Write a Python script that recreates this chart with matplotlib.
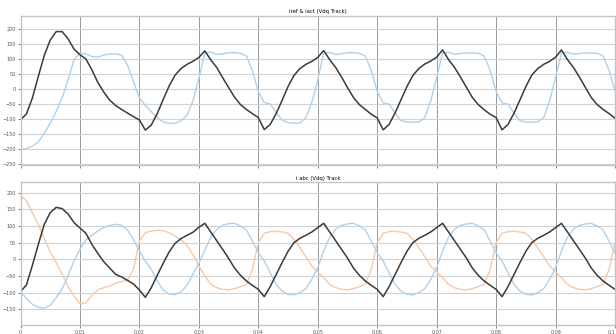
import numpy as np
import matplotlib.pyplot as plt

# time axis, 1 ms steps from 0 to 0.1 s
t = np.arange(101) / 1000.0

# upper plot: reference / measured
top_black = [
    -103, -83, -30, 42, 112, 163, 191, 191, 167, 133, 114, 100, 64, 22, -10, -37, -55, -68, -80, -92,
    -103, -137, -120, -82, -35, 10, 46, 68, 82, 92, 105, 127, 97, 72, 38, 5, -27, -52, -68, -82,
    -95, -135, -118, -82, -38, 8, 45, 68, 82, 92, 105, 128, 98, 72, 40, 5, -28, -52, -68, -84,
    -96, -136, -118, -80, -36, 8, 45, 68, 83, 93, 106, 130, 98, 72, 40, 6, -28, -52, -69, -84,
    -95, -136, -118, -81, -37, 8, 46, 68, 82, 92, 106, 130, 98, 72, 40, 6, -28, -52, -68, -82,
    -97,
]
top_blue = [
    -203, -198, -190, -176, -148, -113, -75, -30, 30, 98, 119, 117, 108, 106, 113, 117, 117, 113, 80, 25,
    -30, -55, -76, -95, -110, -114, -114, -106, -87, -40, 35, 120, 123, 115, 117, 121, 121, 119, 110, 62,
    -8, -45, -50, -78, -103, -112, -114, -113, -95, -45, 30, 119, 122, 115, 117, 121, 121, 119, 110, 62,
    -8, -46, -50, -80, -105, -110, -110, -110, -95, -40, 38, 120, 122, 116, 118, 120, 120, 119, 110, 62,
    -8, -46, -50, -80, -105, -110, -110, -110, -95, -40, 38, 120, 122, 116, 118, 120, 120, 119, 110, 62,
    -5,
]

# lower plot: three phases
bot_black = [
    -97, -77, -18, 45, 105, 140, 156, 152, 136, 110, 94, 78, 45, 18, -7, -26, -45, -53, -63, -74,
    -92, -114, -85, -48, -12, 22, 48, 62, 72, 81, 96, 108, 82, 56, 30, 3, -26, -48, -65, -78,
    -90, -112, -82, -46, -10, 24, 50, 63, 72, 82, 95, 108, 82, 56, 30, 4, -26, -48, -65, -78,
    -90, -112, -82, -46, -10, 24, 50, 63, 72, 82, 95, 108, 82, 56, 30, 4, -26, -48, -65, -78,
    -90, -112, -82, -46, -10, 24, 50, 63, 72, 82, 95, 108, 82, 56, 30, 4, -26, -48, -65, -78,
    -90,
]
bot_blue = [
    -97, -118, -135, -144, -147, -138, -115, -88, -50, -5, 30, 58, 72, 85, 95, 102, 105, 102, 88, 60,
    25, -5, -30, -65, -92, -104, -106, -98, -78, -45, -12, 28, 66, 90, 102, 107, 108, 100, 88, 55,
    20, -5, -40, -75, -95, -105, -107, -100, -88, -60, -25, 25, 66, 90, 102, 106, 108, 100, 88, 55,
    20, -5, -40, -75, -95, -105, -107, -100, -88, -60, -25, 25, 66, 90, 102, 106, 108, 100, 88, 55,
    20, -5, -40, -75, -95, -105, -107, -100, -88, -60, -25, 25, 66, 90, 102, 106, 108, 100, 88, 55,
    18,
]
bot_orange = [
    193, 175, 140, 105, 62, 22, -10, -45, -82, -110, -133, -130, -108, -92, -85, -80, -72, -67, -62, -30,
    55, 80, 85, 87, 86, 80, 70, 58, 42, 15, -20, -50, -75, -85, -90, -92, -88, -82, -76, -30,
    50, 78, 83, 84, 82, 78, 60, 35, 8, -20, -38, -55, -75, -85, -90, -92, -88, -82, -75, -30,
    50, 78, 83, 84, 82, 78, 60, 35, 8, -20, -38, -55, -75, -85, -90, -92, -88, -82, -75, -30,
    50, 78, 83, 84, 82, 78, 60, 35, 8, -20, -38, -55, -75, -85, -90, -92, -88, -82, -75, -30,
    50,
]

x_ticks = [0, 0.01, 0.02, 0.03, 0.04, 0.05, 0.06, 0.07, 0.08, 0.09, 0.1]
x_labels = ["0", "0.01", "0.02", "0.03", "0.04", "0.05", "0.06", "0.07", "0.08", "0.09", "0.1"]
top_yticks = [-250, -200, -150, -100, -50, 0, 50, 100, 150, 200]
bot_yticks = [-150, -100, -50, 0, 50, 100, 150, 200]

C_BLACK = "#3a3a3a"
C_BLUE = "#b0d1ec"
C_ORANGE = "#f6c9a8"


def style(ax):
    ax.set_xlim(0, 0.1)
    ax.set_xticks(x_ticks)
    ax.tick_params(labelsize=3.5, colors="#555555", length=2, width=0.5, pad=1.5)
    ax.grid(axis="y", color="#d2d2d2", linewidth=0.8)
    ax.grid(axis="x", color="#9a9a9a", linewidth=0.7)
    for s in ax.spines.values():
        s.set_color("#c4c4c4")
        s.set_linewidth(1.0)


fig = plt.figure(figsize=(6.16, 3.34), dpi=100)
ax1 = fig.add_axes([20.5 / 616, 1 - 165 / 334, 594.5 / 616, 149 / 334])
ax2 = fig.add_axes([20.5 / 616, 1 - 325 / 334, 594.5 / 616, 142.7 / 334])

ax1.plot(t, top_blue, color=C_BLUE, linewidth=1.0)
ax1.plot(t, top_black, color=C_BLACK, linewidth=1.1)
style(ax1)
ax1.set_ylim(-253, 243)
ax1.set_yticks(top_yticks)
ax1.set_xticklabels([])
ax1.set_title("iref & iact (Vdq Track)", fontsize=3.8, pad=2, x=0.5)

ax2.plot(t, bot_orange, color=C_ORANGE, linewidth=1.0)
ax2.plot(t, bot_blue, color=C_BLUE, linewidth=1.0)
ax2.plot(t, bot_black, color=C_BLACK, linewidth=1.1)
style(ax2)
ax2.set_ylim(-197, 231)
ax2.set_yticks(bot_yticks)
ax2.set_xticklabels(x_labels)
# keep the last tick label inside the figure
ax2.get_xticklabels()[-1].set_horizontalalignment("right")
ax2.set_title("i abc (Vdq) Track", fontsize=3.8, pad=2, x=0.5)

fig.savefig("out.png", dpi=100)
